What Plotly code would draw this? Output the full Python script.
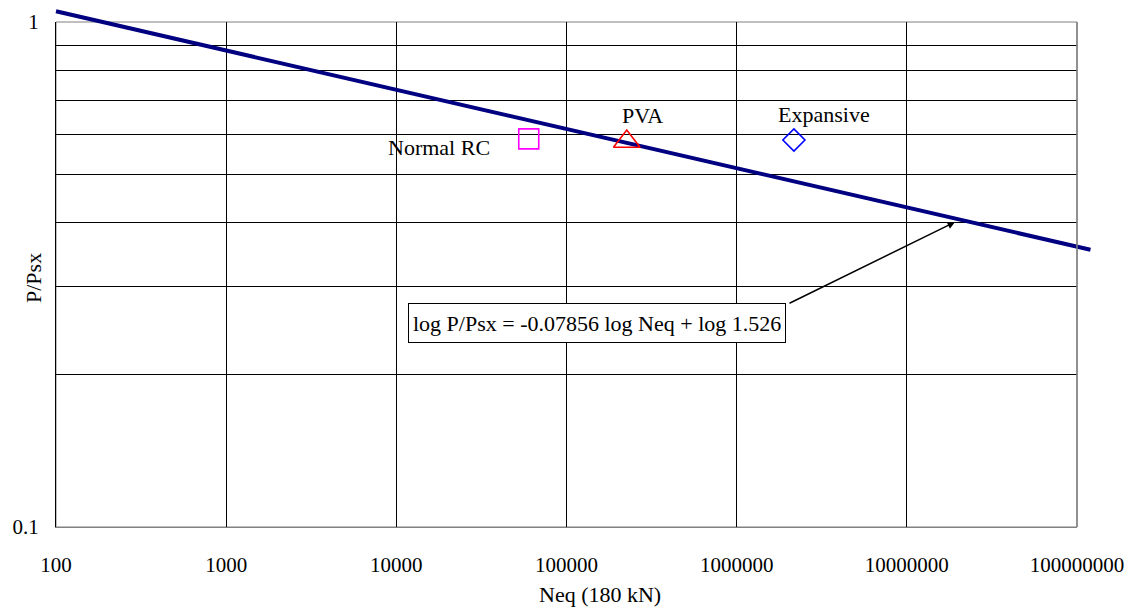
import math
import plotly.graph_objects as go

# ---------------- data ----------------
fit_n = [100, 1.2e8]            # regression line endpoints (Neq)
fit_p = [1.05, 0.354]           # P/Psx at those endpoints
point_names = ["Normal RC", "PVA", "Expansive"]
point_n = [60000, 226000, 2170000]
point_p = [0.587, 0.580, 0.584]
y_tick_vals = [0.1, 0.2, 0.3, 0.4, 0.5, 0.6, 0.7, 0.8, 0.9, 1.0]
y_tick_text = ["0.1", "", "", "", "", "", "", "", "", "1"]
x_tick_vals = [1e2, 1e3, 1e4, 1e5, 1e6, 1e7, 1e8]
x_tick_text = ["100", "1000", "10000", "100000", "1000000", "10000000", "100000000"]
equation = "log P/Psx = -0.07856 log Neq + log 1.526"

# ---------------- layout geometry (pixels) ----------------
W, H = 1131, 612
ML, MR, MT, MB = 40, 30, 0, 85
PL, PR, PT, PB = 56, 1077, 22, 527      # inner plot box
PW = W - ML - MR
PH = H - MT - MB
XDEC = 6
YDEC = 1
xppd = (PR - PL) / XDEC
yppd = (PB - PT) / YDEC


def px(xp):
    return (xp - ML) / PW


def py(yp):
    return (H - MB - yp) / PH


FONT = "Liberation Serif, Times New Roman, serif"
fs_tick = 21
fs_lab = 22

fig = go.Figure()

# invisible trace so the main (gridded) subplot is drawn
fig.add_trace(go.Scatter(x=[x_tick_vals[0]], y=[y_tick_vals[0]], mode="markers",
                         xaxis="x", yaxis="y", marker=dict(opacity=0),
                         showlegend=False, hoverinfo="skip"))

fig.add_trace(go.Scatter(
    x=fit_n, y=fit_p, mode="lines", xaxis="x2", yaxis="y2",
    line=dict(color="#000080", width=4), showlegend=False, hoverinfo="skip"))

symbols = ["square-open", "triangle-up-open", "diamond-open"]
colors = ["#ff00ff", "#ff0000", "#0000ff"]
sizes = [20, 23, 17]
for i in range(3):
    fig.add_trace(go.Scatter(
        x=[point_n[i]], y=[point_p[i]], mode="markers", xaxis="x2", yaxis="y2",
        marker=dict(symbol=symbols[i], color=colors[i], size=sizes[i],
                    line=dict(color=colors[i], width=1.6)),
        showlegend=False, cliponaxis=False))

label_shift = [(-90, -9), (16, 26), (30, 25)]
annotations = []
for i in range(3):
    annotations.append(dict(
        x=math.log10(point_n[i]), y=math.log10(point_p[i]), xref="x2", yref="y2",
        xshift=label_shift[i][0], yshift=label_shift[i][1],
        xanchor="center", yanchor="middle",
        text=point_names[i], showarrow=False,
        font=dict(family=FONT, size=fs_lab, color="black")))

# equation box
annotations.append(dict(
    x=px(596.5), y=py(323), xref="paper", yref="paper",
    xanchor="center", yanchor="middle",
    text=equation, showarrow=False, bgcolor="white", height=30,
    bordercolor="black", borderwidth=1, borderpad=4,
    font=dict(family=FONT, size=22, color="black")))
# arrow
annotations.append(dict(
    x=px(955), y=py(222), xref="paper", yref="paper",
    ax=788 - 955, ay=304 - 222, text="", showarrow=True,
    arrowhead=2, arrowsize=1, arrowwidth=1.5, arrowcolor="black", standoff=0))
# axis titles
annotations.append(dict(
    x=px(33), y=py(278), xref="paper", yref="paper", text="P/Psx",
    xanchor="center", yanchor="middle",
    textangle=-90, showarrow=False,
    font=dict(family=FONT, size=fs_lab, color="black")))
annotations.append(dict(
    x=px(600), y=py(595), xref="paper", yref="paper", text="Neq (180 kN)",
    xanchor="center", yanchor="middle",
    showarrow=False, font=dict(family=FONT, size=fs_lab, color="black")))

xd0, xd1 = px(PL), px(PR)
yd0, yd1 = py(PB), py(PT)

fig.update_layout(
    width=W, height=H,
    margin=dict(l=ML, r=MR, t=MT, b=MB, autoexpand=False),
    paper_bgcolor="white", plot_bgcolor="rgba(0,0,0,0)",
    font=dict(family=FONT, size=fs_tick, color="black"),
    xaxis=dict(type="log", range=[2, 8], domain=[xd0, xd1], anchor="y",
               tickvals=x_tick_vals, ticktext=x_tick_text, automargin=False,
               showgrid=True, gridcolor="black", gridwidth=1,
               showline=True, linecolor="#808080", linewidth=1,
               ticks="", ticklabelstandoff=19, zeroline=False),
    yaxis=dict(type="log", range=[-1, 0], domain=[yd0, yd1], anchor="x",
               tickvals=y_tick_vals, ticktext=y_tick_text, automargin=False,
               showgrid=True, gridcolor="black", gridwidth=1,
               showline=True, linecolor="black", linewidth=1,
               ticks="inside", ticklen=8, tickcolor="black",
               ticklabelstandoff=12, zeroline=False),
    xaxis2=dict(type="log", domain=[0, 1], anchor="y2", automargin=False,
                range=[2 - (PL - ML) / xppd, 8 + (W - MR - PR) / xppd],
                visible=False),
    yaxis2=dict(type="log", domain=[0, 1], anchor="x2", automargin=False,
                range=[-1 - (H - MB - PB) / yppd, 0 + (PT - MT) / yppd],
                visible=False),
    annotations=annotations,
    shapes=[
        dict(type="rect", xref="x domain", yref="y domain", x0=0, x1=1, y0=0, y1=1,
             line=dict(color="#808080", width=1), layer="below"),
        dict(type="line", xref="x domain", yref="y domain", x0=1, x1=1, y0=0, y1=1,
             line=dict(color="#808080", width=1.5), layer="above"),
    ],
)

fig.write_html("out.html")
